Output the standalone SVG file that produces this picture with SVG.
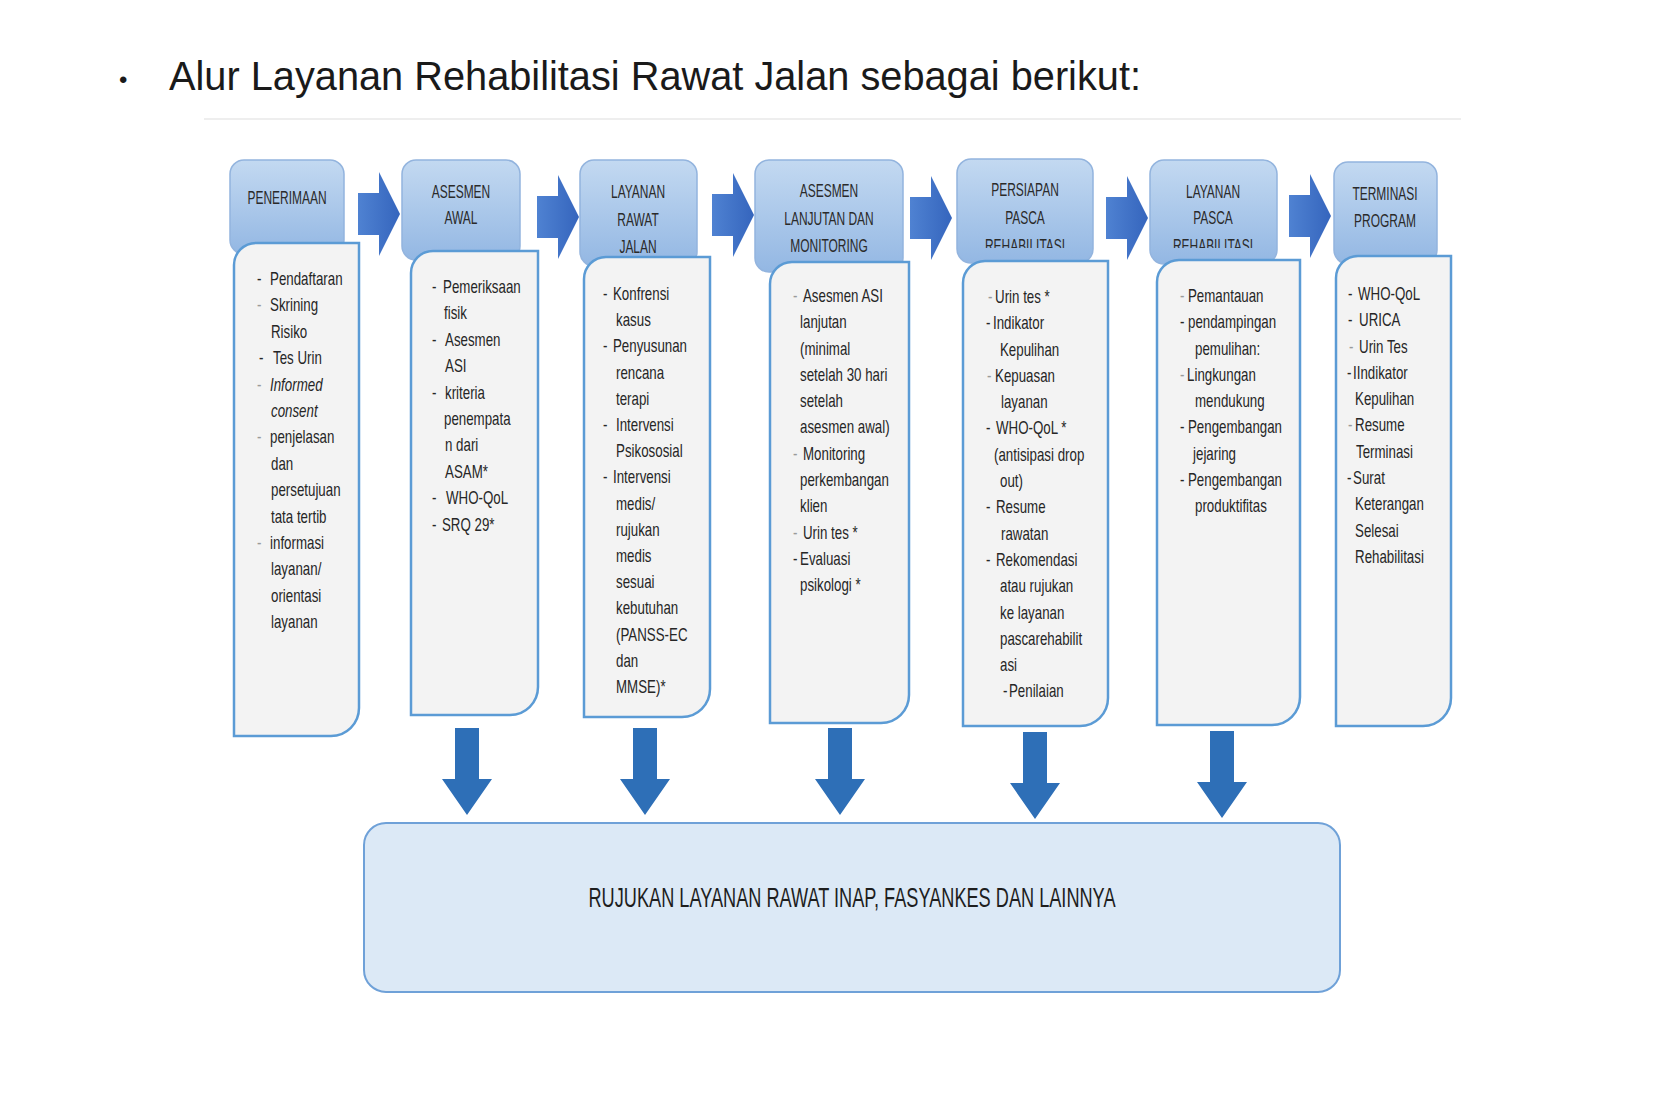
<svg xmlns="http://www.w3.org/2000/svg" width="1654" height="1114" viewBox="0 0 1654 1114">
<defs>
<style>
.t{font-family:'Liberation Sans',Arial,sans-serif;font-size:18px;fill:#262626}
.g{fill:#9a9a9a}
.i{font-style:italic}
.h{font-family:'Liberation Sans',Arial,sans-serif;font-size:19px;fill:#2a2a2a;text-anchor:middle}
.hd{fill:url(#hg);stroke:#93b4de;stroke-width:1.5}
.cb{fill:#f3f3f3;stroke:#5b9bd5;stroke-width:2.5}
.ra{fill:url(#ag)}
.da{fill:#2e6fb7}
</style>
<linearGradient id="hg" x1="0" y1="0" x2="0" y2="1">
<stop offset="0" stop-color="#c3d9f1"/>
<stop offset="1" stop-color="#93b7e3"/>
</linearGradient>
<linearGradient id="ag" x1="0" y1="0" x2="1" y2="0">
<stop offset="0" stop-color="#4f82d2"/>
<stop offset="1" stop-color="#3565bd"/>
</linearGradient>
<path id="rarrow" d="M0,-21 H21 V-42 L42,0 L21,42 V21 H0 Z"/>
<path id="darrow" d="M-12,0 H12 V51 H25 L0,87 L-25,51 H-12 Z"/>
<clipPath id="clipR"><rect x="900" y="150" width="420" height="98"/></clipPath>
</defs>
<rect width="1654" height="1114" fill="#ffffff"/>

<g id="title">
<text x="119" y="88" style="font-family:'Liberation Sans',Arial,sans-serif;font-size:24px;fill:#1a1a1a">•</text>
<text x="169" y="90" textLength="972" lengthAdjust="spacingAndGlyphs" style="font-family:'Liberation Sans',Arial,sans-serif;font-size:41px;fill:#1a1a1a">Alur Layanan Rehabilitasi Rawat Jalan sebagai berikut:</text>
<line x1="204" y1="119" x2="1461" y2="119" stroke="#e8e8e8" stroke-width="1.5"/>
</g>

<g id="node-penerimaan">
<rect class="hd" x="230" y="160" width="114" height="94" rx="14"/>
<g transform="translate(287 0) scale(0.63 1)"><text class="h" x="0" y="204">PENERIMAAN</text></g>
<path class="cb" d="M256,243 H359 V708 A28 28 0 0 1 331,736 H234 V265 A22 22 0 0 1 256,243 Z"/>
<g transform="translate(257 0) scale(0.74 1)"><text class="t">
<tspan x="0" y="285">-</tspan><tspan x="17.6" y="285">Pendaftaran</tspan>
<tspan class="g" x="0" y="311.4">-</tspan><tspan x="17.6" y="311.4">Skrining</tspan>
<tspan x="18.9" y="337.8">Risiko</tspan>
<tspan x="2.7" y="364.2">-</tspan><tspan x="21.6" y="364.2">Tes Urin</tspan>
<tspan class="g" x="0" y="390.6">-</tspan><tspan class="i" x="17.6" y="390.6">Informed</tspan>
<tspan class="i" x="18.9" y="417">consent</tspan>
<tspan class="g" x="0" y="443.4">-</tspan><tspan x="17.6" y="443.4">penjelasan</tspan>
<tspan x="18.9" y="469.8">dan</tspan>
<tspan x="18.9" y="496.2">persetujuan</tspan>
<tspan x="18.9" y="522.6">tata tertib</tspan>
<tspan class="g" x="0" y="549">-</tspan><tspan x="17.6" y="549">informasi</tspan>
<tspan x="18.9" y="575.4">layanan/</tspan>
<tspan x="18.9" y="601.8">orientasi</tspan>
<tspan x="18.9" y="628.2">layanan</tspan>
</text></g>
</g>

<g id="node-asesmen-awal">
<rect class="hd" x="402" y="160" width="118" height="100" rx="14"/>
<g transform="translate(461 0) scale(0.63 1)"><text class="h"><tspan x="0" y="198">ASESMEN</tspan><tspan x="0" y="224">AWAL</tspan></text></g>
<path class="cb" d="M433,251 H538 V687 A28 28 0 0 1 510,715 H411 V273 A22 22 0 0 1 433,251 Z"/>
<g transform="translate(432 0) scale(0.74 1)"><text class="t">
<tspan x="0" y="293">-</tspan><tspan x="14.9" y="293">Pemeriksaan</tspan>
<tspan x="16.2" y="319.4">fisik</tspan>
<tspan x="0" y="345.8">-</tspan><tspan x="17.6" y="345.8">Asesmen</tspan>
<tspan x="17.6" y="372.2">ASI</tspan>
<tspan x="0" y="398.6">-</tspan><tspan x="17.6" y="398.6">kriteria</tspan>
<tspan x="16.2" y="425">penempata</tspan>
<tspan x="17.6" y="451.4">n dari</tspan>
<tspan x="17.6" y="477.8">ASAM*</tspan>
<tspan x="0" y="504.2">-</tspan><tspan x="18.9" y="504.2">WHO-QoL</tspan>
<tspan x="0" y="530.6">-</tspan><tspan x="13.5" y="530.6">SRQ 29*</tspan>
</text></g>
</g>

<g id="node-layanan-rawat-jalan">
<rect class="hd" x="580" y="160" width="117" height="106" rx="14"/>
<g transform="translate(638 0) scale(0.63 1)"><text class="h"><tspan x="0" y="198">LAYANAN</tspan><tspan x="0" y="226">RAWAT</tspan><tspan x="0" y="253">JALAN</tspan></text></g>
<path class="cb" d="M606,257 H710 V689 A28 28 0 0 1 682,717 H584 V279 A22 22 0 0 1 606,257 Z"/>
<g transform="translate(603 0) scale(0.74 1)"><text class="t">
<tspan x="0" y="300">-</tspan><tspan x="13.5" y="300">Konfrensi</tspan>
<tspan x="17.6" y="326.2">kasus</tspan>
<tspan x="0" y="352.4">-</tspan><tspan x="13.5" y="352.4">Penyusunan</tspan>
<tspan x="17.6" y="378.6">rencana</tspan>
<tspan x="17.6" y="404.8">terapi</tspan>
<tspan x="0" y="431">-</tspan><tspan x="17.6" y="431">Intervensi</tspan>
<tspan x="17.6" y="457.2">Psikososial</tspan>
<tspan x="0" y="483.4">-</tspan><tspan x="13.5" y="483.4">Intervensi</tspan>
<tspan x="17.6" y="509.6">medis/</tspan>
<tspan x="17.6" y="535.8">rujukan</tspan>
<tspan x="17.6" y="562">medis</tspan>
<tspan x="17.6" y="588.2">sesuai</tspan>
<tspan x="17.6" y="614.4">kebutuhan</tspan>
<tspan x="17.6" y="640.6">(PANSS-EC</tspan>
<tspan x="17.6" y="666.8">dan</tspan>
<tspan x="17.6" y="693">MMSE)*</tspan>
</text></g>
</g>

<g id="node-asesmen-lanjutan">
<rect class="hd" x="755" y="160" width="148" height="112" rx="14"/>
<g transform="translate(829 0) scale(0.63 1)"><text class="h"><tspan x="0" y="197">ASESMEN</tspan><tspan x="0" y="225">LANJUTAN DAN</tspan><tspan x="0" y="252">MONITORING</tspan></text></g>
<path class="cb" d="M792,262 H909 V695 A28 28 0 0 1 881,723 H770 V284 A22 22 0 0 1 792,262 Z"/>
<g transform="translate(793 0) scale(0.74 1)"><text class="t">
<tspan class="g" x="0" y="302">-</tspan><tspan x="13.5" y="302">Asesmen ASI</tspan>
<tspan x="9.5" y="328.3">lanjutan</tspan>
<tspan x="9.5" y="354.6">(minimal</tspan>
<tspan x="9.5" y="380.9">setelah 30 hari</tspan>
<tspan x="9.5" y="407.2">setelah</tspan>
<tspan x="9.5" y="433.5">asesmen awal)</tspan>
<tspan class="g" x="0" y="459.8">-</tspan><tspan x="13.5" y="459.8">Monitoring</tspan>
<tspan x="9.5" y="486.1">perkembangan</tspan>
<tspan x="9.5" y="512.4">klien</tspan>
<tspan class="g" x="0" y="538.7">-</tspan><tspan x="13.5" y="538.7">Urin tes *</tspan>
<tspan x="0" y="565">-</tspan><tspan x="9.5" y="565">Evaluasi</tspan>
<tspan x="9.5" y="591.3">psikologi *</tspan>
</text></g>
</g>

<g id="node-persiapan-pasca">
<rect class="hd" x="957" y="159" width="136" height="104" rx="14"/>
<g transform="translate(1025 0) scale(0.63 1)"><text class="h"><tspan x="0" y="196">PERSIAPAN</tspan><tspan x="0" y="224">PASCA</tspan></text></g>
<g clip-path="url(#clipR)"><g transform="translate(1025 0) scale(0.63 1)"><text class="h" x="0" y="252">REHABILITASI</text></g></g>
<path class="cb" d="M985,261 H1108 V698 A28 28 0 0 1 1080,726 H963 V283 A22 22 0 0 1 985,261 Z"/>
<g transform="translate(986 0) scale(0.74 1)"><text class="t">
<tspan class="g" x="2.7" y="303">-</tspan><tspan x="12.2" y="303">Urin tes *</tspan>
<tspan x="0" y="329.3">-</tspan><tspan x="9.5" y="329.3">Indikator</tspan>
<tspan x="18.9" y="355.6">Kepulihan</tspan>
<tspan class="g" x="1.4" y="381.9">-</tspan><tspan x="12.2" y="381.9">Kepuasan</tspan>
<tspan x="20.3" y="408.2">layanan</tspan>
<tspan x="0" y="434.5">-</tspan><tspan x="13.5" y="434.5">WHO-QoL *</tspan>
<tspan x="10.8" y="460.8">(antisipasi drop</tspan>
<tspan x="18.9" y="487.1">out)</tspan>
<tspan x="0" y="513.4">-</tspan><tspan x="13.5" y="513.4">Resume</tspan>
<tspan x="20.3" y="539.7">rawatan</tspan>
<tspan x="0" y="566">-</tspan><tspan x="13.5" y="566">Rekomendasi</tspan>
<tspan x="18.9" y="592.3">atau rujukan</tspan>
<tspan x="18.9" y="618.6">ke layanan</tspan>
<tspan x="18.9" y="644.9">pascarehabilit</tspan>
<tspan x="18.9" y="671.2">asi</tspan>
<tspan x="23" y="697.5">-</tspan><tspan x="31" y="697.5">Penilaian</tspan>
</text></g>
</g>

<g id="node-layanan-pasca">
<rect class="hd" x="1150" y="160" width="127" height="104" rx="14"/>
<g transform="translate(1213 0) scale(0.63 1)"><text class="h"><tspan x="0" y="198">LAYANAN</tspan><tspan x="0" y="224">PASCA</tspan></text></g>
<g clip-path="url(#clipR)"><g transform="translate(1213 0) scale(0.63 1)"><text class="h" x="0" y="252">REHABILITASI</text></g></g>
<path class="cb" d="M1179,260 H1300 V697 A28 28 0 0 1 1272,725 H1157 V282 A22 22 0 0 1 1179,260 Z"/>
<g transform="translate(1180 0) scale(0.74 1)"><text class="t">
<tspan class="g" x="0" y="302">-</tspan><tspan x="10.8" y="302">Pemantauan</tspan>
<tspan x="0" y="328.3">-</tspan><tspan x="10.8" y="328.3">pendampingan</tspan>
<tspan x="20.3" y="354.6">pemulihan:</tspan>
<tspan class="g" x="0" y="380.9">-</tspan><tspan x="9.5" y="380.9">Lingkungan</tspan>
<tspan x="20.3" y="407.2">mendukung</tspan>
<tspan x="0" y="433.5">-</tspan><tspan x="10.8" y="433.5">Pengembangan</tspan>
<tspan x="17.6" y="459.8">jejaring</tspan>
<tspan x="0" y="486.1">-</tspan><tspan x="10.8" y="486.1">Pengembangan</tspan>
<tspan x="20.3" y="512.4">produktifitas</tspan>
</text></g>
</g>

<g id="node-terminasi">
<rect class="hd" x="1334" y="162" width="103" height="102" rx="14"/>
<g transform="translate(1385 0) scale(0.63 1)"><text class="h"><tspan x="0" y="200">TERMINASI</tspan><tspan x="0" y="227">PROGRAM</tspan></text></g>
<path class="cb" d="M1358,256 H1451 V698 A28 28 0 0 1 1423,726 H1336 V278 A22 22 0 0 1 1358,256 Z"/>
<g transform="translate(1348 0) scale(0.74 1)"><text class="t">
<tspan x="0" y="300">-</tspan><tspan x="13.5" y="300">WHO-QoL</tspan>
<tspan x="0" y="326.3">-</tspan><tspan x="14.9" y="326.3">URICA</tspan>
<tspan class="g" x="1.4" y="352.6">-</tspan><tspan x="14.9" y="352.6">Urin Tes</tspan>
<tspan x="-1.4" y="378.9">-</tspan><tspan x="6.8" y="378.9">IIndikator</tspan>
<tspan x="9.5" y="405.2">Kepulihan</tspan>
<tspan class="g" x="0" y="431.5">-</tspan><tspan x="9.5" y="431.5">Resume</tspan>
<tspan x="10.8" y="457.8">Terminasi</tspan>
<tspan x="-1.4" y="484.1">-</tspan><tspan x="6.8" y="484.1">Surat</tspan>
<tspan x="9.5" y="510.4">Keterangan</tspan>
<tspan x="9.5" y="536.7">Selesai</tspan>
<tspan x="9.5" y="563">Rehabilitasi</tspan>
</text></g>
</g>

<g id="node-rujukan">
<rect x="364" y="823" width="976" height="169" rx="22" fill="#dce9f6" stroke="#6fa1d8" stroke-width="2"/>
<text x="852" y="907" text-anchor="middle" textLength="527" lengthAdjust="spacingAndGlyphs" style="font-family:'Liberation Sans',Arial,sans-serif;font-size:28px;fill:#1e1e1e">RUJUKAN LAYANAN RAWAT INAP, FASYANKES DAN LAINNYA</text>
</g>

<g id="connectors">
<use href="#rarrow" class="ra" x="358" y="214"/>
<use href="#rarrow" class="ra" x="537" y="217"/>
<use href="#rarrow" class="ra" x="712" y="215"/>
<use href="#rarrow" class="ra" x="910" y="218"/>
<use href="#rarrow" class="ra" x="1106" y="218"/>
<use href="#rarrow" class="ra" x="1289" y="216"/>
<use href="#darrow" class="da" x="467" y="728"/>
<use href="#darrow" class="da" x="645" y="728"/>
<use href="#darrow" class="da" x="840" y="728"/>
<use href="#darrow" class="da" x="1035" y="732"/>
<use href="#darrow" class="da" x="1222" y="731"/>
</g>
</svg>
